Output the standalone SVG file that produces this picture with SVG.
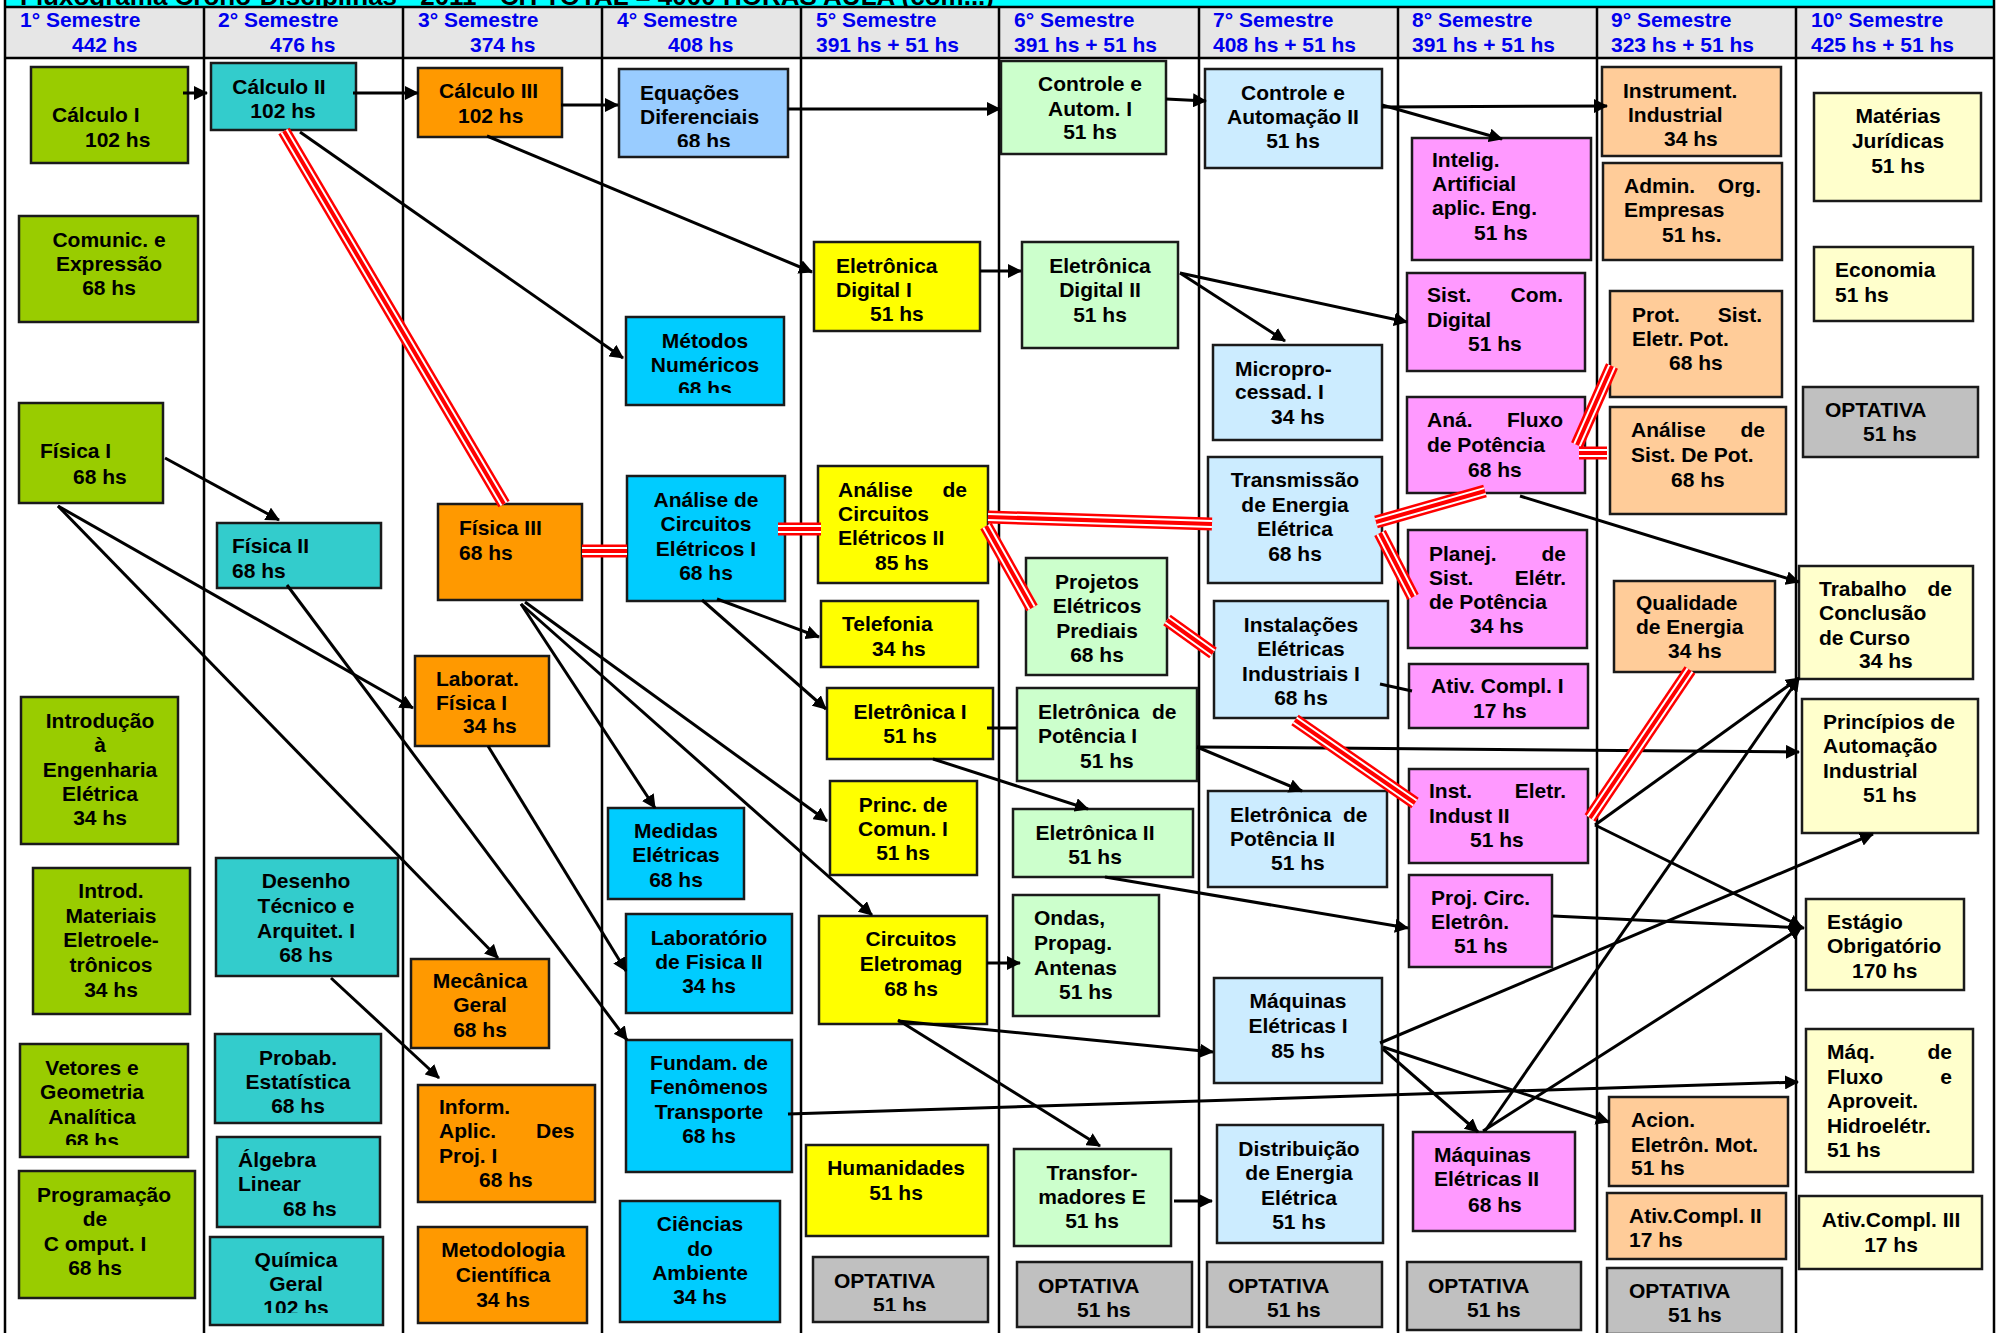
<svg xmlns="http://www.w3.org/2000/svg" width="1997" height="1333" viewBox="0 0 1997 1333">
<style>
.t{font-family:"Liberation Sans",Arial,sans-serif;font-weight:bold;font-size:21px;fill:#000}
.m{text-anchor:middle}
.e{text-anchor:end}
.h{font-family:"Liberation Sans",Arial,sans-serif;font-weight:bold;font-size:21px;fill:#0000ee}
.b{stroke:#1a1a1a;stroke-width:2.5}
.g1{fill:#99cc00}.g2{fill:#33cccc}.g3{fill:#ff9900}.g4{fill:#00ccff}.g4b{fill:#99ccff}
.g5{fill:#ffff00}.g6{fill:#ccffcc}.g7{fill:#ccecff}.g8{fill:#ff99ff}.g9{fill:#ffcc99}.g10{fill:#ffffcc}.go{fill:#c0c0c0}
.col{stroke:#000;stroke-width:2.5}
.a{stroke:#000;stroke-width:3;fill:none;marker-end:url(#ah)}
.l{stroke:#000;stroke-width:3;fill:none}
.r1{stroke:#ff0000;stroke-width:13;fill:none}
.r2{stroke:#ffffff;stroke-width:8;fill:none}
.r3{stroke:#ff0000;stroke-width:4;fill:none}
</style>
<defs>
<marker id="ah" viewBox="0 0 14 14" refX="13" refY="7" markerWidth="14" markerHeight="14" markerUnits="userSpaceOnUse" orient="auto"><path d="M0,0 L14,7 L0,14 z" fill="#000"/></marker>
<clipPath id="cEq"><rect x="619" y="69" width="169" height="78"/></clipPath>
<clipPath id="cMet"><rect x="626" y="317" width="158" height="76"/></clipPath>
<clipPath id="cVet"><rect x="20" y="1044" width="168" height="101"/></clipPath>
<clipPath id="cQui"><rect x="210" y="1237" width="173" height="76"/></clipPath>
<clipPath id="cOp5"><rect x="813" y="1257" width="175" height="54"/></clipPath>
</defs>
<rect x="0" y="0" width="1997" height="1333" fill="#ffffff"/>
<g id="title">
<rect x="5" y="0" width="1989" height="7" fill="#00ffff"/>
<text x="20" y="5" font-family="Liberation Sans, Arial, sans-serif" font-weight="bold" font-size="26" fill="#000">Fluxograma Crono-Disciplinas - 2011 - CH TOTAL = 4000 HORAS AULA (com...)</text>
</g>
<g id="header">
<rect x="5" y="7" width="1989" height="51" fill="#e6e6e6"/>
<line x1="5" y1="7" x2="1994" y2="7" class="col"/>
<line x1="5" y1="58" x2="1994" y2="58" class="col"/>
<g class="col">
<line x1="5" y1="0" x2="5" y2="1333"/><line x1="204" y1="7" x2="204" y2="1333"/><line x1="403" y1="7" x2="403" y2="1333"/>
<line x1="602" y1="7" x2="602" y2="1333"/><line x1="801" y1="7" x2="801" y2="1333"/><line x1="999" y1="7" x2="999" y2="1333"/>
<line x1="1199" y1="7" x2="1199" y2="1333"/><line x1="1398" y1="7" x2="1398" y2="1333"/><line x1="1597" y1="7" x2="1597" y2="1333"/>
<line x1="1796" y1="7" x2="1796" y2="1333"/><line x1="1994" y1="0" x2="1994" y2="1333"/>
</g>
<text class="h" x="20" y="27">1° Semestre</text><text class="h" x="72" y="52">442 hs</text>
<text class="h" x="218" y="27">2° Semestre</text><text class="h" x="270" y="52">476 hs</text>
<text class="h" x="418" y="27">3° Semestre</text><text class="h" x="470" y="52">374 hs</text>
<text class="h" x="617" y="27">4° Semestre</text><text class="h" x="668" y="52">408 hs</text>
<text class="h" x="816" y="27">5° Semestre</text><text class="h" x="816" y="52">391 hs + 51 hs</text>
<text class="h" x="1014" y="27">6° Semestre</text><text class="h" x="1014" y="52">391 hs + 51 hs</text>
<text class="h" x="1213" y="27">7° Semestre</text><text class="h" x="1213" y="52">408 hs + 51 hs</text>
<text class="h" x="1412" y="27">8° Semestre</text><text class="h" x="1412" y="52">391 hs + 51 hs</text>
<text class="h" x="1611" y="27">9° Semestre</text><text class="h" x="1611" y="52">323 hs + 51 hs</text>
<text class="h" x="1811" y="27">10° Semestre</text><text class="h" x="1811" y="52">425 hs + 51 hs</text>
</g>

<g id="nodes">
<!-- Semestre 1 -->
<g id="calculo1"><rect class="b g1" x="31" y="67" width="157" height="96"/><text class="t" x="52" y="122">Cálculo I</text><text class="t" x="85" y="147">102 hs</text></g>
<g id="comunic"><rect class="b g1" x="19" y="216" width="179" height="106"/><text class="t m" x="109" y="247">Comunic. e</text><text class="t m" x="109" y="271">Expressão</text><text class="t m" x="109" y="295">68 hs</text></g>
<g id="fisica1"><rect class="b g1" x="19" y="403" width="144" height="100"/><text class="t" x="40" y="458">Física I</text><text class="t" x="73" y="484">68 hs</text></g>
<g id="introducao"><rect class="b g1" x="21" y="697" width="157" height="147"/><text class="t m" x="100" y="728">Introdução</text><text class="t m" x="100" y="752">à</text><text class="t m" x="100" y="777">Engenharia</text><text class="t m" x="100" y="801">Elétrica</text><text class="t m" x="100" y="825">34 hs</text></g>
<g id="materiais"><rect class="b g1" x="33" y="868" width="157" height="146"/><text class="t m" x="111" y="898">Introd.</text><text class="t m" x="111" y="923">Materiais</text><text class="t m" x="111" y="947">Eletroele-</text><text class="t m" x="111" y="972">trônicos</text><text class="t m" x="111" y="997">34 hs</text></g>
<g id="vetores"><rect class="b g1" x="20" y="1044" width="168" height="113"/><g clip-path="url(#cVet)"><text class="t m" x="92" y="1075">Vetores e</text><text class="t m" x="92" y="1099">Geometria</text><text class="t m" x="92" y="1124">Analítica</text><text class="t m" x="92" y="1148">68 hs</text></g></g>
<g id="programacao"><rect class="b g1" x="19" y="1171" width="176" height="127"/><text class="t m" x="104" y="1202">Programação</text><text class="t m" x="95" y="1226">de</text><text class="t m" x="95" y="1251">C omput. I</text><text class="t m" x="95" y="1275">68 hs</text></g>
<!-- Semestre 2 -->
<g id="calculo2"><rect class="b g2" x="211" y="63" width="145" height="67"/><text class="t m" x="279" y="94">Cálculo II</text><text class="t m" x="283" y="118">102 hs</text></g>
<g id="fisica2"><rect class="b g2" x="217" y="523" width="164" height="65"/><text class="t" x="232" y="553">Física II</text><text class="t" x="232" y="578">68 hs</text></g>
<g id="desenho"><rect class="b g2" x="216" y="858" width="182" height="118"/><text class="t m" x="306" y="888">Desenho</text><text class="t m" x="306" y="913">Técnico e</text><text class="t m" x="306" y="938">Arquitet. I</text><text class="t m" x="306" y="962">68 hs</text></g>
<g id="probab"><rect class="b g2" x="215" y="1034" width="166" height="89"/><text class="t m" x="298" y="1065">Probab.</text><text class="t m" x="298" y="1089">Estatística</text><text class="t m" x="298" y="1113">68 hs</text></g>
<g id="algebra"><rect class="b g2" x="217" y="1137" width="163" height="90"/><text class="t" x="238" y="1167">Álgebra</text><text class="t" x="238" y="1191">Linear</text><text class="t" x="283" y="1216">68 hs</text></g>
<g id="quimica"><rect class="b g2" x="210" y="1237" width="173" height="88"/><g clip-path="url(#cQui)"><text class="t m" x="296" y="1267">Química</text><text class="t m" x="296" y="1291">Geral</text><text class="t m" x="296" y="1315">102 hs</text></g></g>
<!-- Semestre 3 -->
<g id="calculo3"><rect class="b g3" x="418" y="68" width="144" height="69"/><text class="t" x="439" y="98">Cálculo III</text><text class="t" x="458" y="123">102 hs</text></g>
<g id="fisica3"><rect class="b g3" x="438" y="504" width="144" height="96"/><text class="t" x="459" y="535">Física III</text><text class="t" x="459" y="560">68 hs</text></g>
<g id="labfis1"><rect class="b g3" x="415" y="656" width="134" height="90"/><text class="t" x="436" y="686">Laborat.</text><text class="t" x="436" y="710">Física I</text><text class="t" x="463" y="733">34 hs</text></g>
<g id="mecanica"><rect class="b g3" x="411" y="959" width="138" height="89"/><text class="t m" x="480" y="988">Mecânica</text><text class="t m" x="480" y="1012">Geral</text><text class="t m" x="480" y="1037">68 hs</text></g>
<g id="inform"><rect class="b g3" x="418" y="1085" width="177" height="117"/><text class="t" x="439" y="1114">Inform.</text><text class="t" x="439" y="1138">Aplic.</text><text class="t" x="536" y="1138">Des</text><text class="t" x="439" y="1163">Proj. I</text><text class="t" x="479" y="1187">68 hs</text></g>
<g id="metodologia"><rect class="b g3" x="418" y="1227" width="169" height="96"/><text class="t m" x="503" y="1257">Metodologia</text><text class="t m" x="503" y="1282">Científica</text><text class="t m" x="503" y="1307">34 hs</text></g>
<!-- Semestre 4 -->
<g id="equacoes"><rect class="b g4b" x="619" y="69" width="169" height="88"/><g clip-path="url(#cEq)"><text class="t" x="640" y="100">Equações</text><text class="t" x="640" y="124">Diferenciais</text><text class="t" x="677" y="148">68 hs</text></g></g>
<g id="metodos"><rect class="b g4" x="626" y="317" width="158" height="88"/><g clip-path="url(#cMet)"><text class="t m" x="705" y="348">Métodos</text><text class="t m" x="705" y="372">Numéricos</text><text class="t m" x="705" y="396">68 hs</text></g></g>
<g id="analise1"><rect class="b g4" x="627" y="476" width="158" height="125"/><text class="t m" x="706" y="507">Análise de</text><text class="t m" x="706" y="531">Circuitos</text><text class="t m" x="706" y="556">Elétricos I</text><text class="t m" x="706" y="580">68 hs</text></g>
<g id="medidas"><rect class="b g4" x="608" y="808" width="136" height="91"/><text class="t m" x="676" y="838">Medidas</text><text class="t m" x="676" y="862">Elétricas</text><text class="t m" x="676" y="887">68 hs</text></g>
<g id="labfis2"><rect class="b g4" x="626" y="914" width="166" height="99"/><text class="t m" x="709" y="945">Laboratório</text><text class="t m" x="709" y="969">de Fisica II</text><text class="t m" x="709" y="993">34 hs</text></g>
<g id="fundam"><rect class="b g4" x="626" y="1040" width="166" height="132"/><text class="t m" x="709" y="1070">Fundam. de</text><text class="t m" x="709" y="1094">Fenômenos</text><text class="t m" x="709" y="1119">Transporte</text><text class="t m" x="709" y="1143">68 hs</text></g>
<g id="ciencias"><rect class="b g4" x="620" y="1201" width="160" height="121"/><text class="t m" x="700" y="1231">Ciências</text><text class="t m" x="700" y="1256">do</text><text class="t m" x="700" y="1280">Ambiente</text><text class="t m" x="700" y="1304">34 hs</text></g>
<!-- Semestre 5 -->
<g id="eletdig1"><rect class="b g5" x="814" y="242" width="166" height="89"/><text class="t" x="836" y="273">Eletrônica</text><text class="t" x="836" y="297">Digital I</text><text class="t" x="870" y="321">51 hs</text></g>
<g id="analise2"><rect class="b g5" x="818" y="466" width="170" height="117"/><text class="t" x="838" y="497">Análise</text><text class="t e" x="967" y="497">de</text><text class="t" x="838" y="521">Circuitos</text><text class="t" x="838" y="545">Elétricos II</text><text class="t" x="875" y="570">85 hs</text></g>
<g id="telefonia"><rect class="b g5" x="821" y="601" width="157" height="66"/><text class="t" x="842" y="631">Telefonia</text><text class="t" x="872" y="656">34 hs</text></g>
<g id="eletronica1"><rect class="b g5" x="827" y="688" width="166" height="71"/><text class="t m" x="910" y="719">Eletrônica I</text><text class="t m" x="910" y="743">51 hs</text></g>
<g id="princcomun"><rect class="b g5" x="830" y="781" width="147" height="94"/><text class="t m" x="903" y="812">Princ. de</text><text class="t m" x="903" y="836">Comun. I</text><text class="t m" x="903" y="860">51 hs</text></g>
<g id="circeletromag"><rect class="b g5" x="819" y="916" width="168" height="108"/><text class="t m" x="911" y="946">Circuitos</text><text class="t m" x="911" y="971">Eletromag</text><text class="t m" x="911" y="996">68 hs</text></g>
<g id="humanidades"><rect class="b g5" x="806" y="1145" width="182" height="91"/><text class="t m" x="896" y="1175">Humanidades</text><text class="t m" x="896" y="1200">51 hs</text></g>
<g id="optativa5"><rect class="b go" x="813" y="1257" width="175" height="65"/><g clip-path="url(#cOp5)"><text class="t" x="834" y="1288">OPTATIVA</text><text class="t" x="873" y="1312">51 hs</text></g></g>
<!-- Semestre 6 -->
<g id="controle1"><rect class="b g6" x="1001" y="61" width="165" height="93"/><text class="t m" x="1090" y="91">Controle e</text><text class="t m" x="1090" y="116">Autom. I</text><text class="t m" x="1090" y="139">51 hs</text></g>
<g id="eletdig2"><rect class="b g6" x="1022" y="242" width="156" height="106"/><text class="t m" x="1100" y="273">Eletrônica</text><text class="t m" x="1100" y="297">Digital II</text><text class="t m" x="1100" y="322">51 hs</text></g>
<g id="projetos"><rect class="b g6" x="1026" y="558" width="141" height="117"/><text class="t m" x="1097" y="589">Projetos</text><text class="t m" x="1097" y="613">Elétricos</text><text class="t m" x="1097" y="638">Prediais</text><text class="t m" x="1097" y="662">68 hs</text></g>
<g id="eletpot1"><rect class="b g6" x="1017" y="688" width="180" height="93"/><text class="t" x="1038" y="719">Eletrônica</text><text class="t" x="1152" y="719">de</text><text class="t" x="1038" y="743">Potência I</text><text class="t" x="1080" y="768">51 hs</text></g>
<g id="eletronica2"><rect class="b g6" x="1013" y="809" width="180" height="68"/><text class="t m" x="1095" y="840">Eletrônica II</text><text class="t m" x="1095" y="864">51 hs</text></g>
<g id="ondas"><rect class="b g6" x="1013" y="895" width="146" height="121"/><text class="t" x="1034" y="925">Ondas,</text><text class="t" x="1034" y="950">Propag.</text><text class="t" x="1034" y="975">Antenas</text><text class="t" x="1059" y="999">51 hs</text></g>
<g id="transformadores"><rect class="b g6" x="1014" y="1149" width="157" height="97"/><text class="t m" x="1092" y="1180">Transfor-</text><text class="t m" x="1092" y="1204">madores E</text><text class="t m" x="1092" y="1228">51 hs</text></g>
<g id="optativa6"><rect class="b go" x="1017" y="1262" width="175" height="65"/><text class="t" x="1038" y="1293">OPTATIVA</text><text class="t" x="1077" y="1317">51 hs</text></g>
<!-- Semestre 7 -->
<g id="controle2"><rect class="b g7" x="1205" y="69" width="177" height="99"/><text class="t m" x="1293" y="100">Controle e</text><text class="t m" x="1293" y="124">Automação II</text><text class="t m" x="1293" y="148">51 hs</text></g>
<g id="micropro"><rect class="b g7" x="1213" y="345" width="169" height="95"/><text class="t" x="1235" y="376">Micropro-</text><text class="t" x="1235" y="399">cessad. I</text><text class="t" x="1271" y="424">34 hs</text></g>
<g id="transmissao"><rect class="b g7" x="1208" y="457" width="174" height="126"/><text class="t m" x="1295" y="487">Transmissão</text><text class="t m" x="1295" y="512">de Energia</text><text class="t m" x="1295" y="536">Elétrica</text><text class="t m" x="1295" y="561">68 hs</text></g>
<g id="instalacoes1"><rect class="b g7" x="1214" y="601" width="174" height="117"/><text class="t m" x="1301" y="632">Instalações</text><text class="t m" x="1301" y="656">Elétricas</text><text class="t m" x="1301" y="681">Industriais I</text><text class="t m" x="1301" y="705">68 hs</text></g>
<g id="eletpot2"><rect class="b g7" x="1208" y="791" width="179" height="96"/><text class="t" x="1230" y="822">Eletrônica</text><text class="t" x="1343" y="822">de</text><text class="t" x="1230" y="846">Potência II</text><text class="t" x="1271" y="870">51 hs</text></g>
<g id="maquinas1"><rect class="b g7" x="1214" y="978" width="168" height="105"/><text class="t m" x="1298" y="1008">Máquinas</text><text class="t m" x="1298" y="1033">Elétricas I</text><text class="t m" x="1298" y="1058">85 hs</text></g>
<g id="distribuicao"><rect class="b g7" x="1217" y="1125" width="166" height="118"/><text class="t m" x="1299" y="1156">Distribuição</text><text class="t m" x="1299" y="1180">de Energia</text><text class="t m" x="1299" y="1205">Elétrica</text><text class="t m" x="1299" y="1229">51 hs</text></g>
<g id="optativa7"><rect class="b go" x="1207" y="1262" width="175" height="65"/><text class="t" x="1228" y="1293">OPTATIVA</text><text class="t" x="1267" y="1317">51 hs</text></g>
<!-- Semestre 8 -->
<g id="intelig"><rect class="b g8" x="1412" y="138" width="179" height="122"/><text class="t" x="1432" y="167">Intelig.</text><text class="t" x="1432" y="191">Artificial</text><text class="t" x="1432" y="215">aplic. Eng.</text><text class="t" x="1474" y="240">51 hs</text></g>
<g id="sistcom"><rect class="b g8" x="1407" y="273" width="178" height="98"/><text class="t" x="1427" y="302">Sist.</text><text class="t e" x="1563" y="302">Com.</text><text class="t" x="1427" y="327">Digital</text><text class="t" x="1468" y="351">51 hs</text></g>
<g id="anafluxo"><rect class="b g8" x="1407" y="397" width="178" height="96"/><text class="t" x="1427" y="427">Aná.</text><text class="t e" x="1563" y="427">Fluxo</text><text class="t" x="1427" y="452">de Potência</text><text class="t" x="1468" y="477">68 hs</text></g>
<g id="planej"><rect class="b g8" x="1408" y="530" width="179" height="118"/><text class="t" x="1429" y="561">Planej.</text><text class="t e" x="1566" y="561">de</text><text class="t" x="1429" y="585">Sist.</text><text class="t e" x="1566" y="585">Elétr.</text><text class="t" x="1429" y="609">de Potência</text><text class="t" x="1470" y="633">34 hs</text></g>
<g id="ativcompl1"><rect class="b g8" x="1409" y="664" width="179" height="64"/><text class="t" x="1431" y="693">Ativ. Compl. I</text><text class="t" x="1473" y="718">17 hs</text></g>
<g id="instelet2"><rect class="b g8" x="1409" y="769" width="179" height="94"/><text class="t" x="1429" y="798">Inst.</text><text class="t e" x="1566" y="798">Eletr.</text><text class="t" x="1429" y="823">Indust II</text><text class="t" x="1470" y="847">51 hs</text></g>
<g id="projcirc"><rect class="b g8" x="1409" y="875" width="143" height="92"/><text class="t" x="1431" y="905">Proj. Circ.</text><text class="t" x="1431" y="929">Eletrôn.</text><text class="t" x="1454" y="953">51 hs</text></g>
<g id="maquinas2"><rect class="b g8" x="1413" y="1132" width="162" height="99"/><text class="t" x="1434" y="1162">Máquinas</text><text class="t" x="1434" y="1186">Elétricas II</text><text class="t" x="1468" y="1212">68 hs</text></g>
<g id="optativa8"><rect class="b go" x="1407" y="1262" width="174" height="68"/><text class="t" x="1428" y="1293">OPTATIVA</text><text class="t" x="1467" y="1317">51 hs</text></g>
<!-- Semestre 9 -->
<g id="instrument"><rect class="b g9" x="1602" y="67" width="179" height="89"/><text class="t" x="1623" y="98">Instrument.</text><text class="t" x="1628" y="122">Industrial</text><text class="t" x="1664" y="146">34 hs</text></g>
<g id="admin"><rect class="b g9" x="1603" y="163" width="179" height="97"/><text class="t" x="1624" y="193">Admin.</text><text class="t e" x="1761" y="193">Org.</text><text class="t" x="1624" y="217">Empresas</text><text class="t" x="1662" y="242">51 hs.</text></g>
<g id="prot"><rect class="b g9" x="1610" y="291" width="172" height="106"/><text class="t" x="1632" y="322">Prot.</text><text class="t e" x="1762" y="322">Sist.</text><text class="t" x="1632" y="346">Eletr. Pot.</text><text class="t" x="1669" y="370">68 hs</text></g>
<g id="analisesist"><rect class="b g9" x="1610" y="407" width="176" height="107"/><text class="t" x="1631" y="437">Análise</text><text class="t e" x="1765" y="437">de</text><text class="t" x="1631" y="462">Sist. De Pot.</text><text class="t" x="1671" y="487">68 hs</text></g>
<g id="qualidade"><rect class="b g9" x="1614" y="581" width="161" height="91"/><text class="t" x="1636" y="610">Qualidade</text><text class="t" x="1636" y="634">de Energia</text><text class="t" x="1668" y="658">34 hs</text></g>
<g id="acion"><rect class="b g9" x="1609" y="1097" width="179" height="89"/><text class="t" x="1631" y="1127">Acion.</text><text class="t" x="1631" y="1152">Eletrôn. Mot.</text><text class="t" x="1631" y="1175">51 hs</text></g>
<g id="ativcompl2"><rect class="b g9" x="1607" y="1193" width="179" height="66"/><text class="t" x="1629" y="1223">Ativ.Compl. II</text><text class="t" x="1629" y="1247">17 hs</text></g>
<g id="optativa9"><rect class="b go" x="1607" y="1268" width="175" height="66"/><text class="t" x="1629" y="1298">OPTATIVA</text><text class="t" x="1668" y="1322">51 hs</text></g>
<!-- Semestre 10 -->
<g id="materias"><rect class="b g10" x="1814" y="93" width="167" height="108"/><text class="t m" x="1898" y="123">Matérias</text><text class="t m" x="1898" y="148">Jurídicas</text><text class="t m" x="1898" y="173">51 hs</text></g>
<g id="economia"><rect class="b g10" x="1814" y="247" width="159" height="74"/><text class="t" x="1835" y="277">Economia</text><text class="t" x="1835" y="302">51 hs</text></g>
<g id="optativa10"><rect class="b go" x="1803" y="387" width="175" height="70"/><text class="t" x="1825" y="417">OPTATIVA</text><text class="t" x="1863" y="441">51 hs</text></g>
<g id="tcc"><rect class="b g10" x="1799" y="566" width="174" height="113"/><text class="t" x="1819" y="596">Trabalho</text><text class="t e" x="1952" y="596">de</text><text class="t" x="1819" y="620">Conclusão</text><text class="t" x="1819" y="645">de Curso</text><text class="t" x="1859" y="668">34 hs</text></g>
<g id="principios"><rect class="b g10" x="1802" y="699" width="176" height="134"/><text class="t" x="1823" y="729">Princípios de</text><text class="t" x="1823" y="753">Automação</text><text class="t" x="1823" y="778">Industrial</text><text class="t" x="1863" y="802">51 hs</text></g>
<g id="estagio"><rect class="b g10" x="1806" y="899" width="158" height="91"/><text class="t" x="1827" y="929">Estágio</text><text class="t" x="1827" y="953">Obrigatório</text><text class="t" x="1852" y="978">170 hs</text></g>
<g id="maqfluxo"><rect class="b g10" x="1806" y="1029" width="167" height="143"/><text class="t" x="1827" y="1059">Máq.</text><text class="t e" x="1952" y="1059">de</text><text class="t" x="1827" y="1084">Fluxo</text><text class="t e" x="1952" y="1084">e</text><text class="t" x="1827" y="1108">Aproveit.</text><text class="t" x="1827" y="1133">Hidroelétr.</text><text class="t" x="1827" y="1157">51 hs</text></g>
<g id="ativcompl3"><rect class="b g10" x="1799" y="1196" width="183" height="73"/><text class="t m" x="1891" y="1227">Ativ.Compl. III</text><text class="t m" x="1891" y="1252">17 hs</text></g>
</g>

<g id="connectors">
<line class="a" x1="183" y1="93" x2="207" y2="93"/>
<line class="a" x1="353" y1="93" x2="418" y2="93"/>
<line class="a" x1="561" y1="105" x2="618" y2="105"/>
<line class="a" x1="788" y1="109" x2="1000" y2="109"/>
<line class="a" x1="1166" y1="99" x2="1206" y2="101"/>
<line class="a" x1="1382" y1="107" x2="1607" y2="106"/>
<line class="a" x1="1382" y1="105" x2="1502" y2="139"/>
<line class="a" x1="300" y1="132" x2="623" y2="358"/>
<line class="a" x1="487" y1="136" x2="812" y2="272"/>
<line class="a" x1="980" y1="271" x2="1021" y2="271"/>
<line class="a" x1="1180" y1="273" x2="1407" y2="322"/>
<line class="a" x1="1180" y1="273" x2="1285" y2="341"/>
<line class="a" x1="165" y1="458" x2="279" y2="520"/>
<line class="a" x1="58" y1="506" x2="413" y2="708"/>
<line class="a" x1="58" y1="506" x2="498" y2="958"/>
<line class="a" x1="287" y1="585" x2="627" y2="1040"/>
<line class="a" x1="521" y1="604" x2="655" y2="808"/>
<line class="a" x1="525" y1="602" x2="827" y2="821"/>
<line class="a" x1="521" y1="604" x2="872" y2="915"/>
<line class="a" x1="488" y1="746" x2="626" y2="971"/>
<line class="a" x1="331" y1="978" x2="439" y2="1078"/>
<line class="a" x1="717" y1="599" x2="819" y2="637"/>
<line class="a" x1="702" y1="600" x2="826" y2="709"/>
<line class="l" x1="987" y1="728" x2="1017" y2="728"/>
<line class="a" x1="933" y1="759" x2="1088" y2="809"/>
<line class="a" x1="1197" y1="747" x2="1302" y2="791"/>
<line class="a" x1="1197" y1="747" x2="1799" y2="752"/>
<line class="a" x1="1105" y1="877" x2="1408" y2="928"/>
<line class="a" x1="987" y1="963" x2="1020" y2="963"/>
<line class="a" x1="898" y1="1021" x2="1213" y2="1052"/>
<line class="a" x1="898" y1="1020" x2="1100" y2="1146"/>
<line class="a" x1="788" y1="1114" x2="1798" y2="1082"/>
<line class="a" x1="1174" y1="1201" x2="1212" y2="1201"/>
<line class="a" x1="1383" y1="1049" x2="1478" y2="1132"/>
<line class="a" x1="1383" y1="1047" x2="1609" y2="1122"/>
<line class="a" x1="1380" y1="1043" x2="1873" y2="834"/>
<line class="a" x1="1485" y1="1131" x2="1799" y2="678"/>
<line class="a" x1="1483" y1="1131" x2="1802" y2="927"/>
<line class="a" x1="1595" y1="825" x2="1799" y2="678"/>
<line class="a" x1="1595" y1="825" x2="1802" y2="927"/>
<line class="a" x1="1553" y1="916" x2="1804" y2="928"/>
<line class="a" x1="1520" y1="496" x2="1799" y2="582"/>
<line class="l" x1="1380" y1="684" x2="1412" y2="691"/>

<g id="red1"><line class="r1" x1="284" y1="131" x2="504" y2="504"/><line class="r2" x1="284" y1="131" x2="504" y2="504"/><line class="r3" x1="284" y1="131" x2="504" y2="504"/></g>
<g id="red2"><line class="r1" x1="582" y1="551" x2="627" y2="551"/><line class="r2" x1="582" y1="551" x2="627" y2="551"/><line class="r3" x1="582" y1="551" x2="627" y2="551"/></g>
<g id="red3"><line class="r1" x1="778" y1="529" x2="821" y2="529"/><line class="r2" x1="778" y1="529" x2="821" y2="529"/><line class="r3" x1="778" y1="529" x2="821" y2="529"/></g>
<g id="red4"><line class="r1" x1="988" y1="517" x2="1212" y2="524"/><line class="r2" x1="988" y1="517" x2="1212" y2="524"/><line class="r3" x1="988" y1="517" x2="1212" y2="524"/></g>
<g id="red5"><line class="r1" x1="986" y1="526" x2="1032" y2="608"/><line class="r2" x1="986" y1="526" x2="1032" y2="608"/><line class="r3" x1="986" y1="526" x2="1032" y2="608"/></g>
<g id="red6"><line class="r1" x1="1167" y1="620" x2="1213" y2="653"/><line class="r2" x1="1167" y1="620" x2="1213" y2="653"/><line class="r3" x1="1167" y1="620" x2="1213" y2="653"/></g>
<g id="red7"><line class="r1" x1="1376" y1="522" x2="1485" y2="491"/><line class="r2" x1="1376" y1="522" x2="1485" y2="491"/><line class="r3" x1="1376" y1="522" x2="1485" y2="491"/></g>
<g id="red8"><line class="r1" x1="1380" y1="533" x2="1413" y2="597"/><line class="r2" x1="1380" y1="533" x2="1413" y2="597"/><line class="r3" x1="1380" y1="533" x2="1413" y2="597"/></g>
<g id="red9"><line class="r1" x1="1295" y1="720" x2="1415" y2="803"/><line class="r2" x1="1295" y1="720" x2="1415" y2="803"/><line class="r3" x1="1295" y1="720" x2="1415" y2="803"/></g>
<g id="red10"><line class="r1" x1="1577" y1="445" x2="1612" y2="366"/><line class="r2" x1="1577" y1="445" x2="1612" y2="366"/><line class="r3" x1="1577" y1="445" x2="1612" y2="366"/></g>
<g id="red11"><line class="r1" x1="1579" y1="453" x2="1607" y2="453"/><line class="r2" x1="1579" y1="453" x2="1607" y2="453"/><line class="r3" x1="1579" y1="453" x2="1607" y2="453"/></g>
<g id="red12"><line class="r1" x1="1690" y1="670" x2="1590" y2="818"/><line class="r2" x1="1690" y1="670" x2="1590" y2="818"/><line class="r3" x1="1690" y1="670" x2="1590" y2="818"/></g>
</g>
</svg>
